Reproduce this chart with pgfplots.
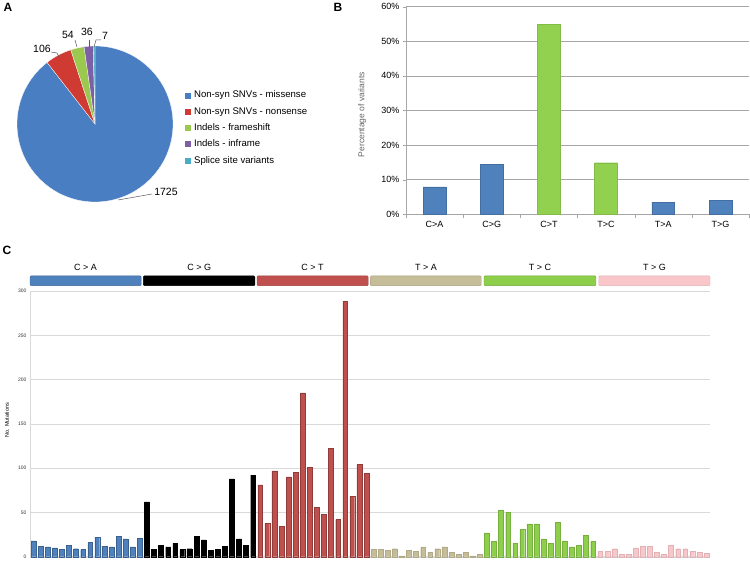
\documentclass[border=0pt]{standalone}
\usepackage{pgfplots}
\pgfplotsset{compat=1.18}
\usepackage{fontspec}
\setmainfont{Liberation Sans}
\definecolor{pieblue}{HTML}{4A7EC2}
\definecolor{piered}{HTML}{CF3A33}
\definecolor{piegreen}{HTML}{9BC84E}
\definecolor{piepurple}{HTML}{7D5FA6}
\definecolor{piecyan}{HTML}{4BACC6}
\definecolor{bblue}{HTML}{4F81BD}
\definecolor{bgreen}{HTML}{92D050}
\definecolor{cblue}{HTML}{4F81BD}
\definecolor{cblack}{HTML}{000000}
\definecolor{cred}{HTML}{C0504D}
\definecolor{ctan}{HTML}{C4BD97}
\definecolor{cgreen}{HTML}{8DCF4A}
\definecolor{cpink}{HTML}{F9C6CA}
\definecolor{gridB}{HTML}{A6A6A6}
\definecolor{gridC}{HTML}{D9D9D9}
\begin{document}
\begin{tikzpicture}[x=1pt,y=1pt]
\useasboundingbox (0,0) rectangle (750,563);
\fill[white] (0,0) rectangle (750,563);
% ---------------- Panel A: pie ----------------
\begin{axis}[
  at={(95pt,439pt)}, anchor=center, scale only axis,
  width=156pt, height=156pt,
  xmin=-1, xmax=1, ymin=-1, ymax=1,
  hide axis, clip=false,
  legend style={at={(axis description cs:1.077,0.726)}, anchor=north west,
    draw=none, fill=none, inner sep=0pt,
    font=\fontsize{9.6}{11}\selectfont, row sep=3.9pt},
  legend cell align=left,
  legend image code/.code={\fill[#1] (0pt,-2.6pt) rectangle (5pt,2.4pt);},
]
\pgfplotsextra{
  \xdef\pieStart{90}
  \foreach \v/\c in {1725/pieblue,106/piered,54/piegreen,36/piepurple,7/piecyan}{
    \pgfmathsetmacro\pieEnd{\pieStart-\v/1928*360}
    \filldraw[fill=\c, draw=white, line width=0.3pt] (axis cs:0,0) -- ++(\pieStart:78pt)
      arc[start angle=\pieStart, end angle=\pieEnd, radius=78pt] -- cycle;
    \xdef\pieStart{\pieEnd}
  }
}
\addlegendimage{pieblue}\addlegendentry{\hspace{1.5pt}Non-syn SNVs - missense}
\addlegendimage{piered}\addlegendentry{\hspace{1.5pt}Non-syn SNVs - nonsense}
\addlegendimage{piegreen}\addlegendentry{\hspace{1.5pt}Indels - frameshift}
\addlegendimage{piepurple}\addlegendentry{\hspace{1.5pt}Indels - inframe}
\addlegendimage{piecyan}\addlegendentry{\hspace{1.5pt}Splice site variants}
\end{axis}
% pie labels and leader lines
\begin{scope}[font=\fontsize{10.5}{12}\selectfont, every node/.style={inner sep=0pt}]
\node at (42,514) {106};
\draw[gray!70!black, line width=0.5pt] (51,511) -- (57,510) -- (59,506);
\node at (68,528) {54};
\draw[gray!70!black, line width=0.5pt] (75,523) -- (77,516);
\node at (87,531) {36};
\draw[gray!70!black, line width=0.5pt] (89,523) -- (89,516);
\node at (105,527) {7};
\draw[gray!70!black, line width=0.5pt] (101,523) -- (96,523) -- (94,516);
\node at (166,371) {1725};
\draw[gray!70!black, line width=0.5pt] (152,369) -- (118,363);
\end{scope}
% panel letters
\node[font=\fontsize{12}{14}\selectfont\bfseries] at (8,556) {A};
\node[font=\fontsize{12}{14}\selectfont\bfseries] at (338,556) {B};
\node[font=\fontsize{12}{14}\selectfont\bfseries] at (7,313) {C};
% ---------------- Panel B ----------------
\begin{axis}[
  at={(406pt,348.7pt)}, anchor=south west, scale only axis,
  width=343pt, height=207.6pt,
  xmin=-0.5, xmax=5.5, ymin=0, ymax=60,
  axis lines=left, axis line style={gridB, -},
  ytick={0,10,...,60},
  yticklabels={0\%,10\%,20\%,30\%,40\%,50\%,60\%},
  xtick={0,...,5},
  xticklabels={C>A,C>G,C>T,T>C,T>A,T>G},
  minor xtick={-0.5,0.5,...,5.5},
  major x tick style={draw=none},
  minor tick length=4pt, major tick length=3pt,
  tick align=outside, tick style={gridB},
  ymajorgrids, grid style={gridB, line width=0.6pt},
  tick label style={font=\fontsize{9}{10}\selectfont},
  ylabel={Percentage of variants},
  ylabel style={at={(axis description cs:-0.128,0.48)}, anchor=center,
    font=\fontsize{8.5}{10}\selectfont, text=gray!80!black},
  ybar, bar width=22.8pt,
]
\addplot[fill=bblue, draw=bblue!85!black, bar shift=0pt] coordinates {(0,7.9) (1,14.45) (4,3.5) (5,4.0)};
\addplot[fill=bgreen, draw=bgreen!90!black, bar shift=0pt] coordinates {(2,54.9) (3,14.9)};
\end{axis}
% ---------------- Panel C ----------------
\begin{axis}[
  at={(30pt,6.3pt)}, anchor=south west, scale only axis,
  width=680pt, height=265.7pt,
  xmin=-0.5, xmax=95.5, ymin=0, ymax=300,
  axis lines=left, axis line style={gridC, -},
  xtick=\empty,
  ytick={0,50,...,300},
  major tick length=0pt,
  /pgf/number format/assume math mode=true,
  tick label style={font=\fontsize{5}{6}\selectfont, text=black!80},
  ymajorgrids, grid style={gridC, line width=0.7pt},
  ylabel={No. Mutations},
  ylabel style={at={(axis description cs:-0.034,0.514)}, anchor=center,
    font=\fontsize{5.5}{6}\selectfont},
  clip=false,
  ybar, bar width=4.8pt,
]
\addplot[fill=cblue, draw=cblue!75!black, line width=0.3pt, bar shift=0pt] coordinates {
(0,18) (1,12) (2,11) (3,10) (4,8) (5,13) (6,9) (7,8) (8,16) (9,22) (10,12) (11,11) (12,23) (13,20) (14,11) (15,21)};
\addplot[fill=cblack, draw=cblack, line width=0.3pt, bar shift=0pt] coordinates {
(16,62) (17,8) (18,13) (19,11) (20,15) (21,8) (22,9) (23,23) (24,19) (25,7) (26,8) (27,12) (28,88) (29,20) (30,13) (31,92)};
\addplot[fill=cred, draw=cred!75!black, line width=0.3pt, bar shift=0pt] coordinates {
(32,81) (33,38) (34,97) (35,34) (36,90) (37,95) (38,185) (39,101) (40,56) (41,48) (42,122) (43,42) (44,288) (45,68) (46,104) (47,94)};
\addplot[fill=ctan, draw=ctan!90!black, line width=0.3pt, bar shift=0pt] coordinates {
(48,8) (49,8) (50,7) (51,9) (52,1) (53,7) (54,6) (55,11) (56,5) (57,9) (58,11) (59,5) (60,3) (61,5) (62,1) (63,3)};
\addplot[fill=cgreen, draw=cgreen!85!black, line width=0.3pt, bar shift=0pt] coordinates {
(64,27) (65,17) (66,52) (67,50) (68,15) (69,31) (70,37) (71,37) (72,20) (73,15) (74,39) (75,18) (76,11) (77,13) (78,24) (79,17)};
\addplot[fill=cpink, draw=cpink!90!black, line width=0.3pt, bar shift=0pt] coordinates {
(80,6) (81,6) (82,9) (83,3) (84,3) (85,10) (86,12) (87,12) (88,5) (89,3) (90,13) (91,9) (92,9) (93,6) (94,5) (95,4)};
% category header bars
\filldraw[fill=cblue, draw=cblue!80!black, rounded corners=1pt] (axis cs:-0.5,306) rectangle (axis cs:15.2,317);
\filldraw[fill=cblack, draw=cblack, rounded corners=1pt] (axis cs:15.5,306) rectangle (axis cs:31.25,317);
\filldraw[fill=cred, draw=cred!80!black, rounded corners=1pt] (axis cs:31.55,306) rectangle (axis cs:47.25,317);
\filldraw[fill=ctan, draw=ctan!85!black, rounded corners=1pt] (axis cs:47.55,306) rectangle (axis cs:63.2,317);
\filldraw[fill=cgreen, draw=cgreen!80!black, rounded corners=1pt] (axis cs:63.6,306) rectangle (axis cs:79.4,317);
\filldraw[fill=cpink, draw=cpink!90!black, rounded corners=1pt] (axis cs:79.8,306) rectangle (axis cs:95.5,317);
\begin{scope}[font=\fontsize{9}{10}\selectfont]
\node at (axis cs:7.35,327) {C > A};
\node at (axis cs:23.4,327) {C > G};
\node at (axis cs:39.4,327) {C > T};
\node at (axis cs:55.4,327) {T > A};
\node at (axis cs:71.5,327) {T > C};
\node at (axis cs:87.65,327) {T > G};
\end{scope}
\end{axis}
\end{tikzpicture}
\end{document}
